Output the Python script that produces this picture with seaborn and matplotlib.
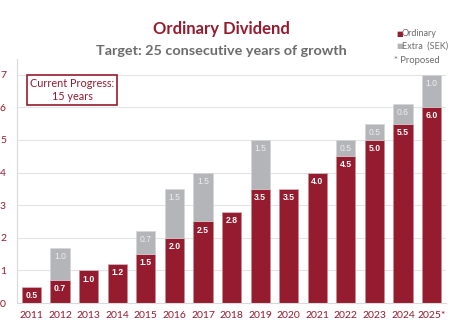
import matplotlib
matplotlib.use("Agg")
import matplotlib.pyplot as plt
import seaborn as sns
import pandas as pd
import numpy as np

years = ["2011", "2012", "2013", "2014", "2015", "2016", "2017", "2018",
         "2019", "2020", "2021", "2022", "2023", "2024", "2025*"]
ordinary = [0.5, 0.7, 1.0, 1.2, 1.5, 2.0, 2.5, 2.8, 3.5, 3.5, 4.0, 4.5, 5.0, 5.5, 6.0]
extra = [0.0, 1.0, 0.0, 0.0, 0.7, 1.5, 1.5, 0.0, 1.5, 0.0, 0.0, 0.5, 0.5, 0.6, 1.0]
y_ticks = [0, 1, 2, 3, 4, 5, 6, 7]

RED = "#951B2E"
GRAY = "#B4B5B9"
TEXT_GRAY = "#6B6B6B"

sns.set_theme(style="white")
plt.rcParams["font.family"] = ["Lato", "DejaVu Sans"]

df = pd.DataFrame({"year": years, "ordinary": ordinary, "extra": extra})

fig = plt.figure(figsize=(4.5, 3.33), dpi=100)
ax = fig.add_axes([0.038, 0.09, 0.953, 0.733])

sns.barplot(data=df, x="year", y="ordinary", order=years, color=RED,
            saturation=1, width=0.67, ax=ax, edgecolor="#C98A94", linewidth=0.4)
sns.barplot(data=df, x="year", y="extra", order=years, color=GRAY,
            saturation=1, width=0.67, ax=ax, bottom=df["ordinary"].values,
            edgecolor="#D4D5D8", linewidth=0.4)

# value labels
for i, (o, e) in enumerate(zip(ordinary, extra)):
    ax.text(i, o - 0.13, f"{o:.1f}", ha="center", va="top", color="white",
            fontsize=6.2, fontweight="bold", family="Liberation Sans")
    if e > 0:
        ax.text(i, o + e - 0.13, f"{e:.1f}", ha="center", va="top",
                color="#EEEEEE", fontsize=6.2, family="Liberation Sans")

ax.set_xlim(-0.5, len(years) - 0.5)
ax.set_ylim(0, 7.48)
ax.set_yticks(y_ticks)
ax.set_xlabel("")
ax.set_ylabel("")
ax.yaxis.grid(True, color="#E4E4E4", linewidth=0.8)
ax.set_axisbelow(True)
for side in ["top", "right"]:
    ax.spines[side].set_visible(False)
for side in ["left", "bottom"]:
    ax.spines[side].set_color("#D9D9D9")
    ax.spines[side].set_linewidth(0.8)

ax.tick_params(axis="y", colors=RED, labelsize=7.5, length=0, pad=8)
ax.tick_params(axis="x", colors=RED, labelsize=7.5, length=0, pad=6)
# category separators on the x axis
ax.set_xticks(np.arange(-0.5, len(years)), minor=True)
ax.tick_params(axis="x", which="minor", length=3, color="#D9D9D9", width=0.8)

# titles
fig.text(0.493, 0.912, "Ordinary Dividend", ha="center", va="center",
         color=RED, fontsize=12, fontweight="bold")
fig.text(0.493, 0.848, "Target: 25 consecutive years of growth", ha="center",
         va="center", color=TEXT_GRAY, fontsize=10.4, fontweight="bold")

# legend
fig.text(0.880, 0.900, "\u25A0", color=RED, fontsize=5, va="center", ha="left")
fig.text(0.893, 0.900, "Ordinary", color=TEXT_GRAY, fontsize=6.5, va="center")
fig.text(0.880, 0.862, "\u25A0", color=GRAY, fontsize=5, va="center", ha="left")
fig.text(0.893, 0.862, "Extra  (SEK)", color=TEXT_GRAY, fontsize=6.5, va="center")
fig.text(0.876, 0.818, "* Proposed", color=TEXT_GRAY, fontsize=6.8, va="center")

# progress box
ax.text(1.42, 6.52, "Current Progress:\n15 years", ha="center", va="center",
        color=RED, fontsize=7.8, linespacing=1.2,
        bbox=dict(boxstyle="square,pad=0.3", facecolor="white",
                  edgecolor=RED, linewidth=1.2))

fig.savefig("out.png", dpi=100)
